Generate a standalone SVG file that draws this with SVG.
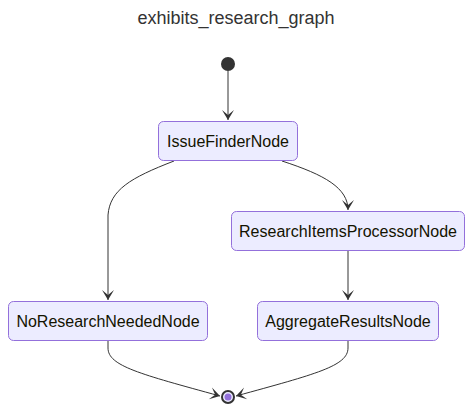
<svg xmlns="http://www.w3.org/2000/svg" width="473" height="413" viewBox="0 0 473 413">
<style>
.node rect{fill:#ECECFF;stroke:#9370DB;stroke-width:1}
.node text{font-family:"Liberation Sans",Arial,sans-serif;font-size:16px;fill:#131300;text-anchor:middle;dominant-baseline:central}
.edge{fill:none;stroke:#333;stroke-width:1;marker-end:url(#barb)}
.title{font-family:"Liberation Sans",Arial,sans-serif;font-size:18px;fill:#333;text-anchor:middle}
</style>
<defs>
<marker id="barb" viewBox="0 0 20 14" refX="19" refY="7" markerWidth="20" markerHeight="14" markerUnits="userSpaceOnUse" orient="auto">
<path d="M19,7 L9,13 L14,7 L9,1 Z" fill="#333"/>
</marker>
</defs>
<rect width="473" height="413" fill="#fff"/>
<text class="title" x="236" y="24">exhibits_research_graph</text>
<g id="connectors">
<path class="edge" d="M228,71 L228,120"/>
<path class="edge" d="M174,161 C130,178 110,190 108,215 L108,300"/>
<path class="edge" d="M282,161 C325,175 348,188 348,210"/>
<path class="edge" d="M348,251 L348,300"/>
<path class="edge" d="M108,341 L108,348 C108,366 140,374 220,396"/>
<path class="edge" d="M348,341 L348,348 C348,366 316,374 236,396"/>
</g>
<g id="start"><circle cx="228" cy="64" r="7" fill="#333"/></g>
<g id="IssueFinderNode" class="node"><rect x="158.5" y="121.5" width="139" height="39" rx="5"/><text x="228" y="141">IssueFinderNode</text></g>
<g id="ResearchItemsProcessorNode" class="node"><rect x="231.5" y="211.5" width="233" height="39" rx="5"/><text x="348" y="231">ResearchItemsProcessorNode</text></g>
<g id="NoResearchNeededNode" class="node"><rect x="8.5" y="301.5" width="199" height="39" rx="5"/><text x="108" y="321">NoResearchNeededNode</text></g>
<g id="AggregateResultsNode" class="node"><rect x="257.5" y="301.5" width="181" height="39" rx="5"/><text x="348" y="321">AggregateResultsNode</text></g>
<g id="end"><circle cx="228" cy="397" r="6" fill="#ECECFF" stroke="#333" stroke-width="2"/><circle cx="228" cy="397" r="3.5" fill="#9370DB"/></g>
</svg>
